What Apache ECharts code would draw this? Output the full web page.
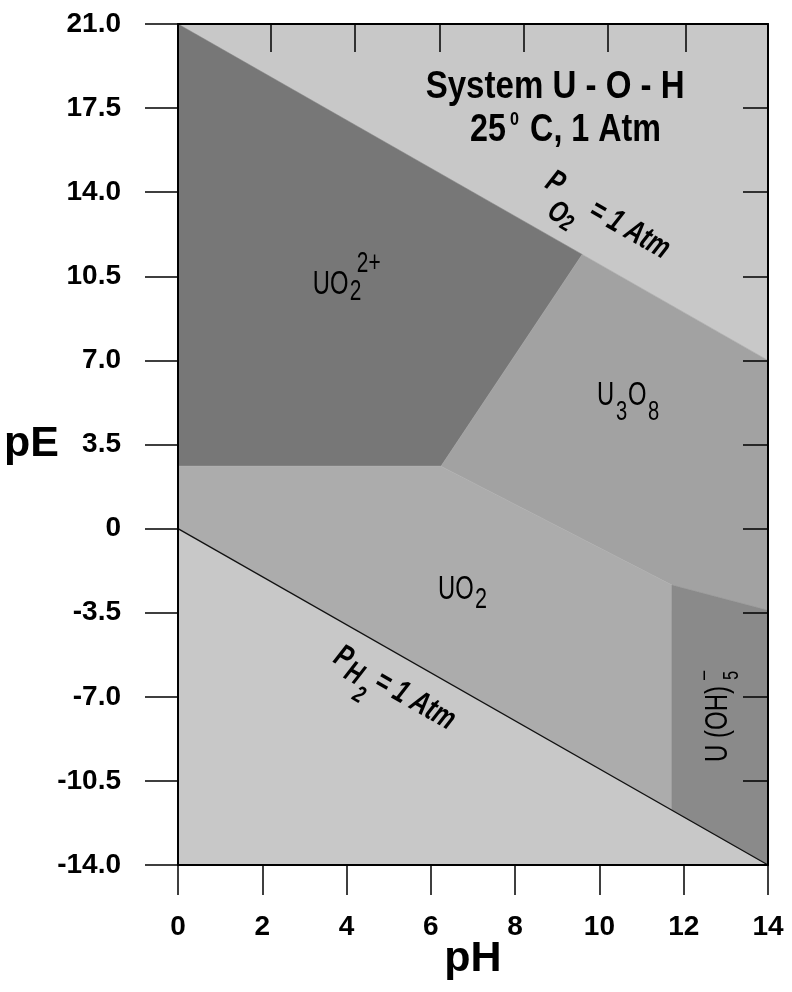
<!DOCTYPE html>
<html>
<head>
<meta charset="utf-8">
<script src="https://cdn.jsdelivr.net/npm/echarts@6/dist/echarts.min.js"></script>
<style>
html,body{margin:0;padding:0;background:#fff;}
#chart{width:792px;height:992px;}
</style>
</head>
<body>
<div id="chart"></div>
<script>
// ---------- DATA ----------
const pHTicks = [0, 2, 4, 6, 8, 10, 12, 14];
const pETickValues = [-14, -10.5, -7, -3.5, 0, 3.5, 7, 10.5, 14, 17.5, 21];
const pETickLabels = ['-14.0', '-10.5', '-7.0', '-3.5', '0', '3.5', '7.0', '10.5', '14.0', '17.5', '21.0'];
const topTickValues = [2.2, 4.2, 6.2, 8.2, 10.2, 12.05];

// stability-field polygons [pH, pE]
const o2Region     = [[0, 21], [14, 21], [14, 7]];
const h2Region     = [[0, 0], [14, -14], [0, -14]];
const uo2ionRegion = [[0, 21], [9.59, 11.41], [6.24, 2.6], [0, 2.6]];
const u3o8Region   = [[9.59, 11.41], [14, 7], [14, -3.4], [11.72, -2.35], [6.24, 2.6]];
const uo2Region    = [[0, 2.6], [6.24, 2.6], [11.72, -2.35], [11.72, -11.72], [0, 0]];
const uoh5Region   = [[11.72, -2.35], [14, -3.4], [14, -14], [11.72, -11.72]];
const h2Line       = [[0, 0], [14, -14]];

// label anchors [pH, pE]
const titleAnchor  = [8.95, 18.34];
const title2Anchor = [6.93, 16.55];
const uo2ionAnchor = [3.20, 10.16];
const u3o8Anchor   = [9.94, 5.54];
const uo2Anchor    = [6.17, -2.55];
const uoh5Anchor   = [12.81, -9.71];
const po2Anchor    = [8.95, 14.38];
const ph2Anchor    = [3.92, -5.38];

// ---------- STYLE ----------
const regions = [o2Region, h2Region, uo2ionRegion, u3o8Region, uo2Region, uoh5Region];
const regionColors = ['#c8c8c8', '#c8c8c8', '#777777', '#a2a2a2', '#acacac', '#8a8a8a'];
const FAM = "'Liberation Sans', Arial, Helvetica, sans-serif";

// label layouts: pieces = [text, dx, dy, size]; sx = horizontal condensing
const labels = [
  { anchor: titleAnchor, rot: 0, weight: 'bold', style: 'normal', align: 'center', sx: 0.87,
    pieces: [['System U - O - H', 0, 0, 38]] },
  { anchor: title2Anchor, rot: 0, weight: 'bold', style: 'normal', align: 'left', sx: 0.85,
    pieces: [['25', 0, 0, 38], ['0', 40, -11, 19], ['C, 1 Atm', 60, 0, 38]] },
  { anchor: uo2ionAnchor, rot: 0, weight: 'normal', style: 'normal', align: 'left', sx: 0.72,
    pieces: [['UO', 0, 0, 33], ['2', 37, 8, 29], ['2+', 44, -20, 29]] },
  { anchor: u3o8Anchor, rot: 0, weight: 'normal', style: 'normal', align: 'left', sx: 0.72,
    pieces: [['U', 0, 0, 33], ['3', 19, 17, 28], ['O', 31, 0, 33], ['8', 51, 17, 28]] },
  { anchor: uo2Anchor, rot: 0, weight: 'normal', style: 'normal', align: 'left', sx: 0.72,
    pieces: [['UO', 0, 0, 33], ['2', 37, 9.5, 30]] },
  { anchor: uoh5Anchor, rot: 90, weight: 'normal', style: 'normal', align: 'left', sx: 0.75,
    pieces: [['U (OH)', 0, 0, 32], ['5', 82, 14, 22], ['\u2013', 82, -14, 22]] },
  { anchor: po2Anchor, rot: -29.7, weight: 'bold', style: 'italic', align: 'left', sx: 0.75,
    pieces: [['P', -8, 0, 32], ['O', 8, 25, 30], ['2', 25, 30, 24], ['= 1 Atm', 44, 4, 32]] },
  { anchor: ph2Anchor, rot: -29.7, weight: 'bold', style: 'italic', align: 'left', sx: 0.75,
    pieces: [['P', -8, 0, 32], ['H', 9, 9, 30], ['2', 27, 25, 24], ['= 1 Atm', 40, 2, 32]] }
];

const chart = echarts.init(document.getElementById('chart'), null, { renderer: 'canvas' });

const axisFont = { fontFamily: FAM, fontWeight: 'bold', fontSize: 28, color: '#000' };
const nameFont = { fontFamily: FAM, fontWeight: 'bold', fontSize: 43, color: '#000' };

chart.setOption({
  animation: false,
  backgroundColor: '#fff',
  grid: { left: 178, right: 24, top: 24, bottom: 127, outerBoundsMode: 'none', containLabel: false },
  xAxis: [
    {
      type: 'value', position: 'bottom', min: 0, max: 14, interval: 2, z: 10,
      axisLine: { show: true, onZero: false, lineStyle: { color: '#000', width: 2 } },
      axisTick: { show: true, inside: false, length: 30, lineStyle: { color: '#000', width: 1.5 } },
      axisLabel: Object.assign({ margin: 48, formatter: v => pHTicks.indexOf(v) >= 0 ? String(v) : '' }, axisFont),
      splitLine: { show: false },
      name: 'pH', nameLocation: 'middle', nameGap: 73, nameMoveOverlap: false,
      nameTextStyle: nameFont
    },
    {
      type: 'value', position: 'top', min: 0, max: 14, interval: 2, z: 10,
      axisLine: { show: true, onZero: false, lineStyle: { color: '#000', width: 2 } },
      axisTick: { show: true, inside: true, length: 28, customValues: topTickValues, lineStyle: { color: '#000', width: 1.5 } },
      axisLabel: { show: false },
      splitLine: { show: false }
    }
  ],
  yAxis: [
    {
      type: 'value', position: 'left', min: -14, max: 21, interval: 3.5, z: 10,
      axisLine: { show: true, onZero: false, lineStyle: { color: '#000', width: 2 } },
      axisTick: { show: true, inside: false, length: 33, lineStyle: { color: '#000', width: 1.5 } },
      axisLabel: Object.assign({ margin: 57, formatter: v => {
        const i = pETickValues.findIndex(t => Math.abs(t - v) < 1e-6);
        return i >= 0 ? pETickLabels[i] : '';
      } }, axisFont),
      splitLine: { show: false },
      name: 'pE', nameLocation: 'middle', nameRotate: 0, nameGap: 119, nameMoveOverlap: false,
      nameTextStyle: nameFont
    },
    {
      type: 'value', position: 'right', min: -14, max: 21, interval: 3.5, z: 10,
      axisLine: { show: true, onZero: false, lineStyle: { color: '#000', width: 2 } },
      axisTick: { show: true, inside: true, length: 25, lineStyle: { color: '#000', width: 1.5 } },
      axisLabel: { show: false },
      splitLine: { show: false }
    }
  ],
  series: [
    {
      type: 'custom', name: 'fields', xAxisIndex: 0, yAxisIndex: 0, z: 1,
      data: regions.map(r => r[0]),
      renderItem: function (params, api) {
        const poly = regions[params.dataIndex];
        return {
          type: 'polygon',
          shape: { points: poly.map(p => api.coord(p)) },
          style: { fill: regionColors[params.dataIndex], stroke: regionColors[params.dataIndex], lineWidth: 0.5 }
        };
      },
      silent: true
    },
    {
      type: 'line', name: 'H2', xAxisIndex: 0, yAxisIndex: 0, z: 3,
      data: h2Line, showSymbol: false, symbol: 'none',
      lineStyle: { color: '#111', width: 1.3 }, silent: true
    },
    {
      type: 'custom', name: 'labels', xAxisIndex: 0, yAxisIndex: 0, z: 5,
      data: labels.map(l => l.anchor),
      renderItem: function (params, api) {
        const L = labels[params.dataIndex];
        const pt = api.coord(L.anchor);
        return {
          type: 'group',
          x: pt[0], y: pt[1],
          rotation: L.rot * Math.PI / 180,
          children: L.pieces.map(p => ({
            type: 'text',
            x: p[1], y: p[2],
            scaleX: L.sx, scaleY: 1,
            style: {
              text: p[0], x: 0, y: 0,
              font: L.style + ' ' + L.weight + ' ' + p[3] + 'px ' + FAM,
              fill: '#000',
              align: L.align, verticalAlign: 'middle'
            }
          }))
        };
      },
      silent: true
    }
  ]
});
</script>
</body>
</html>
